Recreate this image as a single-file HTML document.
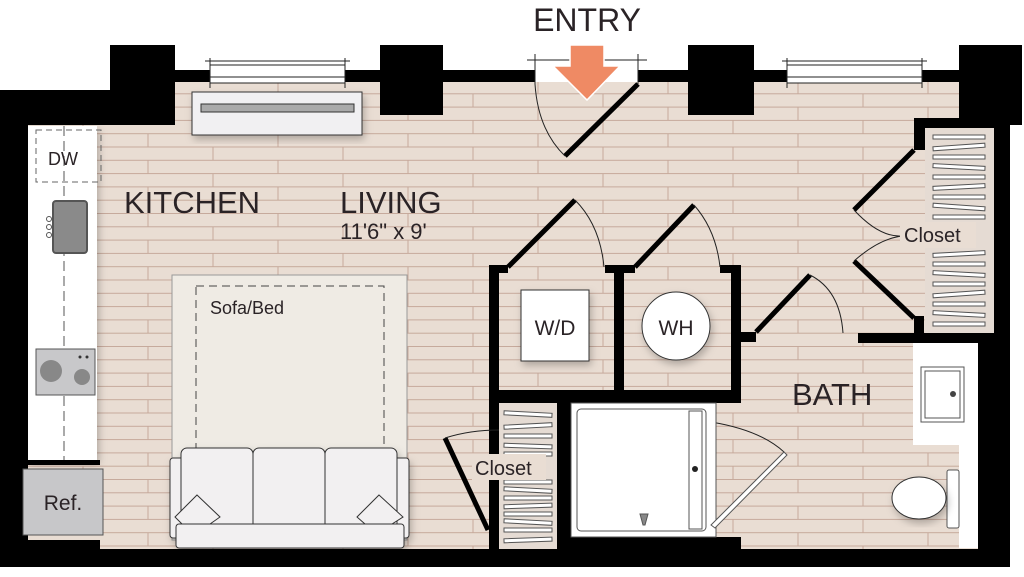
<!DOCTYPE html>
<html><head><meta charset="utf-8"><style>
html,body{margin:0;padding:0;background:#fff;}
svg{display:block;}
text{font-family:"Liberation Sans",sans-serif;fill:#2a2326;}
</style></head><body>
<svg width="1024" height="577" viewBox="0 0 1024 577" xmlns="http://www.w3.org/2000/svg">
<defs>
<pattern id="pl" x="0" y="80" width="130" height="26.6" patternUnits="userSpaceOnUse">
<rect width="130" height="26.6" fill="#e9ddd3"/>
<line x1="0" x2="130" y1="0.5" y2="0.5" stroke="#c6a99b" stroke-width="1"/>
<line x1="0" x2="130" y1="13.8" y2="13.8" stroke="#c6a99b" stroke-width="1"/>
<line x1="18" x2="18" y1="0" y2="13.3" stroke="#c6a99b"/>
<line x1="83" x2="83" y1="13.3" y2="26.6" stroke="#c6a99b"/>
</pattern>
<filter id="sh" x="-20%" y="-20%" width="140%" height="140%"><feDropShadow dx="2" dy="4" stdDeviation="4" flood-color="#000" flood-opacity="0.25"/></filter>
</defs>
<!-- floor -->
<rect x="14" y="82" width="985" height="470" fill="url(#pl)"/>
<rect x="0" y="0" width="112" height="90" fill="#fff"/>
<!-- walls -->
<g fill="#000">
<rect x="0" y="90" width="28" height="477"/>
<rect x="0" y="90" width="175" height="35"/>
<rect x="110" y="45" width="65" height="80"/>
<rect x="175" y="70" width="35" height="12"/>
<rect x="345" y="70" width="190" height="12"/>
<rect x="380" y="45" width="63" height="70"/>
<rect x="638" y="70" width="150" height="12"/>
<rect x="688" y="45" width="66" height="70"/>
<rect x="922" y="70" width="40" height="12"/>
<rect x="959" y="45" width="63" height="80"/>
<rect x="994" y="45" width="16" height="522"/>
<rect x="978" y="335" width="32" height="232"/>
<rect x="0" y="549" width="1010" height="18"/>
<rect x="0" y="540" width="100" height="12"/>
<rect x="28" y="460" width="72" height="5"/>
<!-- right closet walls -->
<rect x="914" y="118" width="96" height="10"/>
<rect x="914" y="118" width="11" height="32"/>
<rect x="914" y="316" width="10" height="22"/>
<rect x="858" y="333" width="152" height="10"/>
<!-- WD / WH block -->
<rect x="489" y="265" width="10" height="283"/>
<rect x="489" y="265" width="19" height="8"/>
<rect x="614" y="265" width="10" height="130"/>
<rect x="605" y="265" width="30" height="8"/>
<rect x="731" y="265" width="10" height="135"/>
<rect x="720" y="265" width="21" height="8"/>
<rect x="489" y="390" width="252" height="13"/>
<rect x="731" y="332" width="25" height="10"/>
<rect x="557" y="403" width="14" height="146"/>
<rect x="571" y="537" width="170" height="12"/>
<rect x="489" y="530" width="10" height="19"/>
</g>
<!-- doors -->
<g stroke="#000" stroke-width="5" fill="none">
<line x1="638" y1="84" x2="565" y2="156"/>
<line x1="508" y1="267" x2="575" y2="200"/>
<line x1="635" y1="267" x2="694" y2="205"/>
<line x1="756" y1="332" x2="810" y2="275"/>
<line x1="914" y1="150" x2="854" y2="210"/>
<line x1="914" y1="318" x2="854" y2="261"/>
<line x1="445" y1="438" x2="488" y2="530"/>
</g>
<g stroke="#222" stroke-width="1" fill="none">
<path d="M535 84 Q538 130 565 156"/>
<path d="M575 200 Q600 225 604 267"/>
<path d="M694 205 Q716 230 720 267"/>
<path d="M810 275 Q840 290 843 333"/>
<path d="M854 210 Q880 238 903 236 Q880 238 854 261"/>
<path d="M445 438 Q470 430 499 430"/>
<path d="M711 422 Q760 430 784 452"/>
</g>
<!-- windows -->
<g stroke="#222" stroke-width="1" fill="#fff">
<rect x="210" y="65" width="135" height="18"/>
<line x1="210" y1="77" x2="345" y2="77"/>
<line x1="205" y1="61" x2="350" y2="61"/>
<rect x="787" y="65" width="135" height="18"/>
<line x1="787" y1="77" x2="922" y2="77"/>
<line x1="782" y1="61" x2="927" y2="61"/>
</g>
<g stroke="#222" stroke-width="1"><line x1="210" y1="58" x2="210" y2="88"/><line x1="345" y1="58" x2="345" y2="88"/><line x1="787" y1="58" x2="787" y2="88"/><line x1="922" y1="58" x2="922" y2="88"/><line x1="527" y1="60" x2="647" y2="60"/><line x1="535" y1="54" x2="535" y2="84"/><line x1="638" y1="54" x2="638" y2="84"/></g>
<!-- entry arrow -->
<polygon points="570,45 604,45 604,66 620,66 587,100 553,66 570,66" fill="#ef8a64" stroke="#fff" stroke-width="1.5"/>
<text x="587" y="31" font-size="32" text-anchor="middle">ENTRY</text>
<!-- AC unit -->
<rect x="192" y="92" width="170" height="43" fill="#f1f0f2" stroke="#333" filter="url(#sh)"/>
<rect x="201" y="104" width="153" height="8" fill="#aaa" stroke="#333"/>
<!-- kitchen counter -->
<rect x="28" y="126" width="69" height="334" fill="#fff" filter="url(#sh)"/>
<rect x="36" y="130" width="65" height="52" fill="none" stroke="#666" stroke-dasharray="6,4"/>
<line x1="64" y1="126" x2="64" y2="460" stroke="#555" stroke-dasharray="10,5"/>
<text x="48" y="165" font-size="18">DW</text>
<rect x="53" y="201" width="34" height="52" rx="3" fill="#8a8a8a" stroke="#555" stroke-width="2"/>
<g fill="none" stroke="#555"><circle cx="49" cy="219" r="2.5"/><circle cx="49" cy="227" r="2.5"/><circle cx="49" cy="235" r="2.5"/></g>
<rect x="36" y="349" width="59" height="46" fill="#c8c8ca" stroke="#555"/>
<circle cx="51" cy="371" r="11" fill="#888"/><circle cx="82" cy="377" r="8" fill="#888"/>
<circle cx="80" cy="357" r="1.5" fill="#333"/><circle cx="87" cy="357" r="1.5" fill="#333"/>
<rect x="23" y="469" width="80" height="66" fill="#c7c7c9" stroke="#555"/>
<text x="63" y="510" font-size="21" text-anchor="middle">Ref.</text>
<!-- labels -->
<text x="124" y="213" font-size="31">KITCHEN</text>
<text x="340" y="213" font-size="31">LIVING</text>
<text x="340" y="239" font-size="22">11'6" x 9'</text>
<!-- sofa bed -->
<rect x="172" y="275" width="235" height="265" fill="#efebe4" stroke="#999"/>
<rect x="196" y="286" width="188" height="252" fill="none" stroke="#444" stroke-dasharray="8,5"/>
<text x="210" y="314" font-size="18">Sofa/Bed</text>
<g fill="#f2f0f1" stroke="#333" filter="url(#sh)">
<rect x="170" y="458" width="17" height="80" rx="3"/>
<rect x="392" y="458" width="17" height="80" rx="3"/>
<rect x="181" y="448" width="72" height="82" rx="6"/>
<rect x="253" y="448" width="72" height="82" rx="6"/>
<rect x="325" y="448" width="72" height="82" rx="6"/>
<rect x="176" y="524" width="228" height="24" rx="3"/>
<polygon points="197,495 220,517 210,524 182,524 175,517"/>
<polygon points="379,495 403,517 392,524 365,524 357,517"/>
</g>
<!-- W/D WH -->
<rect x="521" y="290" width="68" height="71" fill="#fff" stroke="#333" filter="url(#sh)"/>
<text x="555" y="335" font-size="21" text-anchor="middle">W/D</text>
<circle cx="676" cy="326" r="34" fill="#fff" stroke="#333" filter="url(#sh)"/>
<text x="676" y="335" font-size="21" text-anchor="middle">WH</text>
<!-- closets -->
<rect x="499" y="403" width="58" height="146" fill="#e5dbd3"/>
<rect x="925" y="128" width="69" height="205" fill="#e5dbd3"/>
<g stroke="#555" stroke-width="1" fill="#fff">
<rect x="504" y="412" width="48" height="4" transform="rotate(3 527 414)"/>
<rect x="504" y="424" width="48" height="4" transform="rotate(-3 527 426)"/>
<rect x="504" y="434" width="48" height="4"/>
<rect x="504" y="444" width="48" height="4" transform="rotate(2 527 446)"/>
<rect x="504" y="452" width="48" height="4"/>
<rect x="504" y="480" width="48" height="4"/>
<rect x="504" y="488" width="48" height="4" transform="rotate(3 527 490)"/>
<rect x="504" y="496" width="48" height="4"/>
<rect x="504" y="504" width="48" height="4" transform="rotate(-2 527 506)"/>
<rect x="504" y="512" width="48" height="4"/>
<rect x="504" y="520" width="48" height="4" transform="rotate(3 527 522)"/>
<rect x="504" y="528" width="48" height="4"/>
<rect x="504" y="538" width="48" height="4" transform="rotate(-2 527 540)"/>
</g>
<g stroke="#555" stroke-width="1" fill="#fff">
<rect x="933" y="135" width="52" height="4"/><rect x="933" y="145" width="52" height="4" transform="rotate(-4 959 147)"/><rect x="933" y="155" width="52" height="4"/><rect x="933" y="165" width="52" height="4" transform="rotate(3 959 167)"/><rect x="933" y="175" width="52" height="4"/><rect x="933" y="185" width="52" height="4" transform="rotate(-3 959 187)"/><rect x="933" y="195" width="52" height="4"/><rect x="933" y="205" width="52" height="4" transform="rotate(4 959 207)"/><rect x="933" y="215" width="52" height="4"/><rect x="933" y="252" width="52" height="4" transform="rotate(-3 959 254)"/><rect x="933" y="262" width="52" height="4"/><rect x="933" y="272" width="52" height="4" transform="rotate(3 959 274)"/><rect x="933" y="282" width="52" height="4"/><rect x="933" y="292" width="52" height="4" transform="rotate(-4 959 294)"/><rect x="933" y="302" width="52" height="4"/><rect x="933" y="312" width="52" height="4" transform="rotate(3 959 314)"/><rect x="933" y="322" width="52" height="4"/>
</g>
<rect x="900" y="222" width="76" height="26" fill="#e9ddd3"/>
<text x="904" y="242" font-size="20">Closet</text>
<rect x="472" y="454" width="74" height="26" fill="#e9ddd3"/>
<text x="475" y="475" font-size="20">Closet</text>
<!-- shower -->
<rect x="571" y="403" width="145" height="134" fill="#fff" stroke="#555"/>
<rect x="577" y="409" width="129" height="122" rx="4" fill="#fff" stroke="#555"/>
<rect x="689" y="411" width="13" height="118" fill="#fff" stroke="#555"/>
<circle cx="695" cy="469" r="3" fill="#222"/>
<polygon points="640,514 648,514 645,525 643,525" fill="#888" stroke="#555"/>
<polygon points="711,525 784,452 787,455 715,528" fill="#fff" stroke="#555"/>
<text x="792" y="405" font-size="31">BATH</text>
<!-- vanity -->
<path d="M913 343 H978 V548 H959 V445 H913 Z" fill="#fff"/>
<rect x="921" y="367" width="43" height="55" fill="#fff" stroke="#555"/>
<rect x="925" y="371" width="35" height="47" fill="#fff" stroke="#555"/>
<circle cx="953" cy="394" r="3" fill="#444"/>
<!-- toilet -->
<rect x="947" y="470" width="12" height="58" rx="2" fill="#fff" stroke="#555"/>
<ellipse cx="919" cy="498" rx="27" ry="21" fill="#fff" stroke="#333" filter="url(#sh)"/>
</svg>
</body></html>
